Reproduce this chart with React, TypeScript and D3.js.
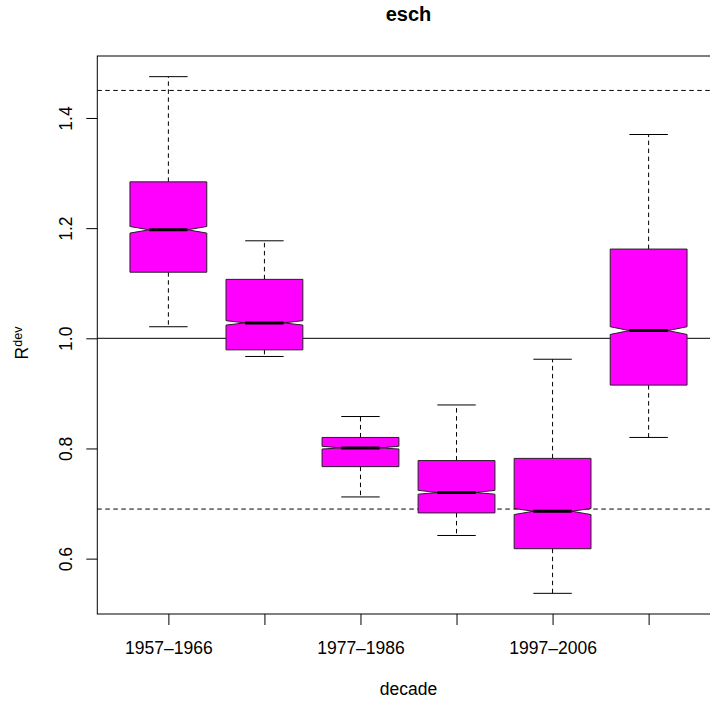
import React, { useEffect, useRef } from 'react';
import * as d3 from 'd3';

// decades on the x axis (R only printed every other label, the rest overlapped)
const categories = ['1957–1966', '1967–1976', '1977–1986', '1987–1996', '1997–2006', '2007–2016'];

// five-number summaries
const whiskerLow = [1.021, 0.967, 0.712, 0.642, 0.537, 0.82];
const q1 = [1.12, 0.979, 0.767, 0.683, 0.618, 0.915];
const median = [1.197, 1.028, 0.801, 0.72, 0.686, 1.014];
const q3 = [1.284, 1.107, 0.82, 0.778, 0.782, 1.162];
const whiskerHigh = [1.475, 1.177, 0.858, 0.879, 0.962, 1.37];

// notch limits (median +/- 1.58 IQR / sqrt(n))
const notchLow = [1.191, 1.024, 0.799, 0.717, 0.68, 1.007];
const notchHigh = [1.203, 1.032, 0.804, 0.724, 0.691, 1.021];

// reference lines
const dashedLines = [1.45, 0.69];
const solidLines = [1.0];

const yTicks = [0.6, 0.8, 1.0, 1.2, 1.4];

const FONT = '"Liberation Sans", Arial, Helvetica, sans-serif';

const App = () => {
  const svgRef = useRef<SVGSVGElement | null>(null);

  useEffect(() => {
    if (!svgRef.current) return;
    const svg = d3.select(svgRef.current);
    svg.selectAll('*').remove();

    // plot region (right edge falls outside the picture, like the original)
    const left = 97.3;
    const right = 719.7;
    const top = 56;
    const bottom = 614;

    const n = categories.length;
    // R style: xlim = c(0.5, n + 0.5), then 4% extension
    const xs = d3.scaleLinear()
      .domain([0.5 - 0.04 * n, n + 0.5 + 0.04 * n])
      .range([left, right]);

    const yMin = d3.min(whiskerLow) as number;
    const yMax = d3.max(whiskerHigh) as number;
    const pad = (yMax - yMin) * 0.04;
    const ys = d3.scaleLinear()
      .domain([yMin - pad, yMax + pad])
      .range([bottom, top]);

    const g = svg.append('g');

    // reference lines
    dashedLines.forEach(v => {
      g.append('line')
        .attr('x1', left).attr('x2', right)
        .attr('y1', ys(v)).attr('y2', ys(v))
        .attr('stroke', '#000')
        .attr('stroke-dasharray', '4.5,3.5');
    });
    solidLines.forEach(v => {
      g.append('line')
        .attr('x1', left).attr('x2', right)
        .attr('y1', ys(v)).attr('y2', ys(v))
        .attr('stroke', '#000');
    });

    const wid = 0.4; // half box width in x units (boxwex 0.8)
    const dx = xs(1 + wid) - xs(1);

    categories.forEach((c, i) => {
      const cx = xs(i + 1);

      // whiskers (dashed)
      g.append('line')
        .attr('x1', cx).attr('x2', cx)
        .attr('y1', ys(q3[i])).attr('y2', ys(whiskerHigh[i]))
        .attr('stroke', '#000').attr('stroke-dasharray', '4.5,3.5');
      g.append('line')
        .attr('x1', cx).attr('x2', cx)
        .attr('y1', ys(q1[i])).attr('y2', ys(whiskerLow[i]))
        .attr('stroke', '#000').attr('stroke-dasharray', '4.5,3.5');

      // staples
      [whiskerHigh[i], whiskerLow[i]].forEach(v => {
        g.append('line')
          .attr('x1', cx - dx / 2).attr('x2', cx + dx / 2)
          .attr('y1', ys(v)).attr('y2', ys(v))
          .attr('stroke', '#000');
      });

      // notched box, same vertex order as R's bxp
      const pts: [number, number][] = [
        [cx - dx, ys(q1[i])],
        [cx + dx, ys(q1[i])],
        [cx + dx, ys(notchLow[i])],
        [cx + dx / 2, ys(median[i])],
        [cx + dx, ys(notchHigh[i])],
        [cx + dx, ys(q3[i])],
        [cx - dx, ys(q3[i])],
        [cx - dx, ys(notchHigh[i])],
        [cx - dx / 2, ys(median[i])],
        [cx - dx, ys(notchLow[i])],
      ];
      g.append('polygon')
        .attr('points', pts.map(p => p.join(',')).join(' '))
        .attr('fill', '#ff00ff')
        .attr('stroke', '#222')
        .attr('stroke-width', 1);

      // median
      g.append('line')
        .attr('x1', cx - dx / 2).attr('x2', cx + dx / 2)
        .attr('y1', ys(median[i])).attr('y2', ys(median[i]))
        .attr('stroke', '#000').attr('stroke-width', 3);
    });

    // plot frame
    g.append('rect')
      .attr('x', left).attr('y', top)
      .attr('width', right - left).attr('height', bottom - top)
      .attr('fill', 'none').attr('stroke', '#000');

    // y axis
    const yAxis = svg.append('g')
      .attr('transform', `translate(${left},0)`)
      .call(d3.axisLeft(ys).tickValues(yTicks).tickSize(11).tickFormat(d3.format('.1f')));
    yAxis.select('.domain').remove();
    yAxis.selectAll('line').attr('stroke', '#000');
    yAxis.selectAll('text')
      .attr('x', null).attr('dy', null)
      .attr('transform', 'translate(-25,0) rotate(-90)')
      .attr('text-anchor', 'middle')
      .style('font-family', FONT)
      .style('font-size', '17.5px')
      .attr('fill', '#000');

    // x axis
    const xAxis = svg.append('g')
      .attr('transform', `translate(0,${bottom})`)
      .call(d3.axisBottom(xs)
        .tickValues(d3.range(1, n + 1))
        .tickSize(11)
        .tickFormat((d: any) => ((d - 1) % 2 === 0 ? categories[d - 1] : '')));
    xAxis.select('.domain').remove();
    xAxis.selectAll('line').attr('stroke', '#000');
    xAxis.selectAll('text')
      .attr('y', 40).attr('dy', null)
      .style('font-family', FONT)
      .style('font-size', '17.5px')
      .attr('fill', '#000');

    const midX = (left + right) / 2;

    // title
    svg.append('text')
      .attr('x', midX).attr('y', 21)
      .attr('text-anchor', 'middle')
      .style('font-family', FONT)
      .style('font-size', '20px')
      .style('font-weight', 'bold')
      .text('esch');

    // x label
    svg.append('text')
      .attr('x', midX).attr('y', 695)
      .attr('text-anchor', 'middle')
      .style('font-family', FONT)
      .style('font-size', '17.5px')
      .text('decade');

    // y label R^dev
    const yl = svg.append('text')
      .attr('transform', `translate(28,${(top + bottom) / 2 + 8}) rotate(-90)`)
      .attr('text-anchor', 'middle')
      .style('font-family', FONT)
      .style('font-size', '17.5px');
    yl.append('tspan').text('R');
    yl.append('tspan').attr('dy', -6).style('font-size', '12.5px').text('dev');
  }, []);

  return (
    <svg
      ref={svgRef}
      width={710}
      height={701}
      style={{ position: 'absolute', left: 0, top: 0, background: '#fff' }}
    />
  );
};

export default App;
